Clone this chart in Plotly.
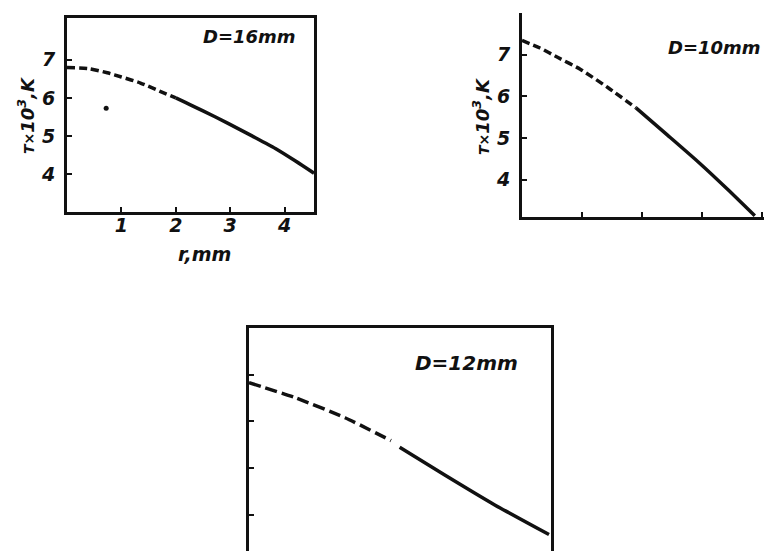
import plotly.graph_objects as go

# ---- data ----
# D = 16 mm panel
r16_dash = [0.0, 0.4, 0.74, 1.0, 1.35, 1.7, 2.0]
T16_dash = [6.80, 6.77, 6.66, 6.55, 6.39, 6.18, 6.00]
r16_solid = [2.0, 2.5, 2.96, 3.4, 3.83, 4.2, 4.54]
T16_solid = [6.00, 5.66, 5.33, 5.00, 4.67, 4.34, 4.02]
r16_dot = [0.72]
T16_dot = [5.73]

# D = 10 mm panel
r10_dash = [0.0, 0.3, 0.6, 0.97, 1.43, 1.9]
T10_dash = [7.34, 7.16, 6.93, 6.65, 6.21, 5.72]
r10_solid = [1.9, 2.43, 2.97, 3.43, 3.88]
T10_solid = [5.72, 5.06, 4.38, 3.76, 3.13]

# D = 12 mm panel
r12_dash = [0.0, 0.69, 1.44, 2.13]
T12_dash = [6.83, 6.51, 6.08, 5.59]
r12_solid = [2.26, 2.93, 3.68, 4.5]
T12_solid = [5.45, 4.86, 4.22, 3.58]

x_ticks = [1, 2, 3, 4]
x_ticklabels = ["1", "2", "3", "4"]
y_ticks = [4, 5, 6, 7]
y_ticklabels = ["4", "5", "6", "7"]

INK = "#111111"
FONT = "DejaVu Sans"
LW = 3.5

fig = go.Figure()

def add_line(x, y, xa, ya, dash):
    fig.add_trace(go.Scatter(x=x, y=y, xaxis=xa, yaxis=ya, mode="lines",
                             line=dict(color=INK, width=LW, dash=dash, shape="spline", smoothing=0.6),
                             showlegend=False, hoverinfo="skip"))

add_line(r16_dash, T16_dash, "x", "y", "8px,4px")
add_line(r16_solid, T16_solid, "x", "y", "solid")
fig.add_trace(go.Scatter(x=r16_dot, y=T16_dot, xaxis="x", yaxis="y", mode="markers",
                         marker=dict(color=INK, size=5), showlegend=False, hoverinfo="skip"))
add_line(r10_dash, T10_dash, "x2", "y2", "8px,4px")
add_line(r10_solid, T10_solid, "x2", "y2", "solid")
add_line(r12_dash, T12_dash, "x3", "y3", "12px,5px")
add_line(r12_solid, T12_solid, "x3", "y3", "solid")

tickfont = dict(family=FONT, size=19, color=INK, weight="bold", style="italic")

def axis(domain, rng, ticks, labels, anchor, mirror, show_labels=True, standoff=0):
    d = dict(domain=domain, range=rng, anchor=anchor, tickvals=ticks,
             ticks="inside", ticklen=5, tickwidth=2, tickcolor=INK,
             showline=True, linecolor=INK, linewidth=3, mirror=mirror,
             showgrid=False, zeroline=False, showticklabels=show_labels,
             tickfont=tickfont, fixedrange=True, ticklabelstandoff=standoff)
    if show_labels:
        d["ticktext"] = labels
    return d

W, H = 772, 551
fig.update_layout(
    width=W, height=H, autosize=False,
    margin=dict(l=0, r=0, t=0, b=0),
    paper_bgcolor="white", plot_bgcolor="white",
    xaxis=axis([59 / W, 306 / W], [0, 4.54], x_ticks, x_ticklabels, "y", True, standoff=-6),
    yaxis=axis([1 - 204 / H, 1 - 10 / H], [3.0, 8.1], y_ticks, y_ticklabels, "x", True, standoff=5),
    xaxis2=axis([514 / W, 1.0], [0, 4.3], x_ticks, x_ticklabels, "y2", False, show_labels=False),
    yaxis2=axis([1 - 209 / H, 1 - 5 / H], [3.1, 8.0], y_ticks, y_ticklabels, "x2", False, standoff=5),
    xaxis3=axis([241 / W, 543 / W], [0, 4.53], x_ticks, x_ticklabels, "y3", True, show_labels=False),
    yaxis3=axis([1 - 549 / H, 1 - 320 / H], [3.1, 8.0], y_ticks, y_ticklabels, "x3", True, show_labels=False),
)

def label(text, x, y, size, angle=0):
    fig.add_annotation(text=text, x=x / W, y=1 - y / H, xref="paper", yref="paper",
                       showarrow=False, textangle=angle, xanchor="center", yanchor="middle",
                       font=dict(family=FONT, size=size, color=INK, weight="bold", style="italic"))

ytitle = "<span style='font-size:14px'>T×</span>10<sup>3</sup>,K"
label("D=16mm", 241, 28, 18)
label("D=10mm", 706, 39, 18)
label("D=12mm", 458, 355, 20)
label("r,mm", 196, 246, 19)
label(ytitle, 18, 107, 18, -90)
label(ytitle, 473, 108, 18, -90)

fig.write_html("out.html")
